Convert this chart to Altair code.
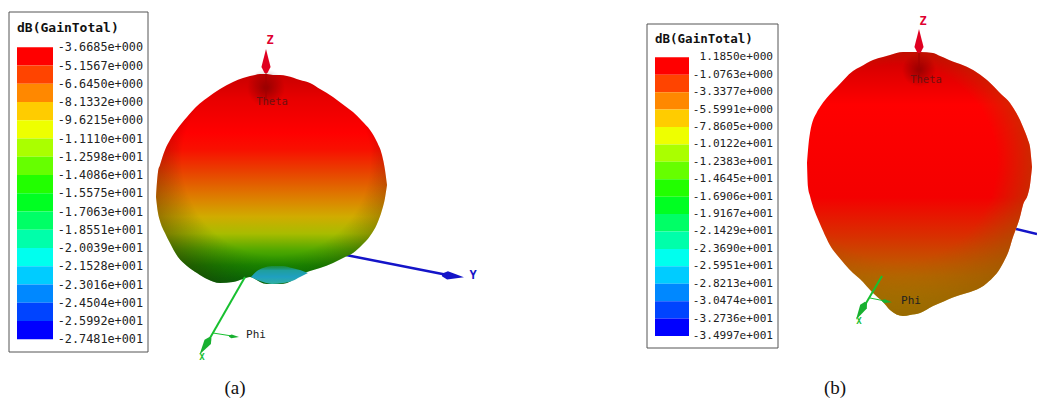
import altair as alt
import pandas as pd

MONO = "DejaVu Sans Mono"
BAND_COLORS = ["#ff0000", "#ff4400", "#ff8800", "#ffcc00", "#eeff00", "#aaff00", "#66ff00", "#22ff00",
               "#00ff22", "#00ff66", "#00ffaa", "#00ffee", "#00ccff", "#0088ff", "#0044ff", "#0000ff"]
LABELS_A = ["-3.6685e+000", "-5.1567e+000", "-6.6450e+000", "-8.1332e+000", "-9.6215e+000", "-1.1110e+001",
            "-1.2598e+001", "-1.4086e+001", "-1.5575e+001", "-1.7063e+001", "-1.8551e+001", "-2.0039e+001",
            "-2.1528e+001", "-2.3016e+001", "-2.4504e+001", "-2.5992e+001", "-2.7481e+001"]
LABELS_B = ["1.1850e+000", "-1.0763e+000", "-3.3377e+000", "-5.5991e+000", "-7.8605e+000", "-1.0122e+001",
            "-1.2383e+001", "-1.4645e+001", "-1.6906e+001", "-1.9167e+001", "-2.1429e+001", "-2.3690e+001",
            "-2.5951e+001", "-2.8213e+001", "-3.0474e+001", "-3.2736e+001", "-3.4997e+001"]

LOBE_A_X = [156, 158, 160, 165, 170, 178, 187, 197, 207, 220, 233, 243, 250, 255, 260, 267, 273, 280, 287, 300, 310,
            320, 333, 345, 353, 362, 370, 377, 382, 385, 387]
LOBE_A_TOP = [197, 172, 165, 150, 140, 128, 117, 106, 98, 89, 82, 78, 76, 75, 74, 74, 75, 75, 76, 80, 83,
              89, 97, 106, 112, 121, 130, 142, 155, 170, 185]
LOBE_A_BOT = [197, 213, 221, 233, 243, 257, 266, 273, 279, 283, 282, 279, 277, 279, 282, 284, 284, 284, 283, 275, 271,
              268, 263, 257, 253, 245, 236, 224, 210, 198, 185]
CAP_X = [251, 257, 263, 272, 283, 292, 300, 308]
CAP_TOP = [277, 271, 268, 266, 266, 268, 270, 273]
CAP_BOT = [277, 280, 282, 284, 283, 281, 277, 273]
LOBE_B_X = [807, 808, 810, 817, 820, 833, 837, 853, 860, 873, 883, 890, 903, 910, 920, 933, 940, 957, 960, 987, 1002,
            1010, 1012, 1020, 1023, 1028, 1030, 1032]
LOBE_B_TOP = [163, 150, 133, 112, 107, 91, 87, 71, 67, 60, 57, 55, 52, 52, 52, 53, 56, 63, 64, 80, 95,
              103, 106, 120, 127, 140, 147, 167]
LOBE_B_BOT = [163, 187, 196, 217, 224, 250, 255, 273, 279, 293, 302, 310, 316, 315, 313, 306, 303, 296, 295, 283, 265,
              247, 240, 217, 205, 194, 185, 167]

X_SCALE = alt.Scale(domain=[8, 1037], nice=False, zero=False)
Y_SCALE = alt.Scale(domain=[398, 8], nice=False, zero=False)
PX = alt.X("x:Q", scale=X_SCALE, axis=None)
PY = alt.Y("y:Q", scale=Y_SCALE, axis=None)


def grad(stops, **kw):
    return dict(gradient="linear", stops=[dict(offset=o, color=c) for o, c in stops], **kw)


def rad(stops, **kw):
    return dict(gradient="radial", stops=[dict(offset=o, color=c) for o, c in stops], **kw)


def lobe(xs, top, bot, fill):
    df = pd.DataFrame({"x": xs, "y": top, "y2": bot})
    return alt.Chart(df).mark_area(interpolate="monotone", fill=fill, stroke=None, opacity=1).encode(
        x=PX, y=PY, y2="y2:Q")


def seg(x0, y0, x1, y1, color, width):
    df = pd.DataFrame({"x": [x0], "y": [y0], "x2": [x1], "y2": [y1]})
    return alt.Chart(df).mark_rule(color=color, strokeWidth=width).encode(x=PX, y=PY, x2="x2:Q", y2="y2:Q")


def head(x, y, angle, length, color, shape="M0,-1L0.38,0.5L0.12,1L-0.12,1L-0.38,0.5Z"):
    df = pd.DataFrame({"x": [x], "y": [y]})
    return alt.Chart(df).mark_point(shape=shape, filled=True, fill=color, stroke=None, opacity=1,
                                    angle=angle, size=length ** 2).encode(x=PX, y=PY)


def blob(x, y, diameter, fill):
    df = pd.DataFrame({"x": [x], "y": [y]})
    return alt.Chart(df).mark_point(shape="circle", filled=True, fill=fill, stroke=None, opacity=1,
                                    size=diameter ** 2).encode(x=PX, y=PY)


def txt(x, y, s, color="#000000", size=11, font=MONO, weight="normal", align="center"):
    df = pd.DataFrame({"x": [x], "y": [y], "t": [s]})
    return alt.Chart(df).mark_text(color=color, fontSize=size, font=font, fontWeight=weight, align=align,
                                   baseline="middle").encode(x=PX, y=PY, text="t:N")


def box(x0, y0, x1, y1):
    df = pd.DataFrame({"x": [x0], "y": [y0], "x2": [x1], "y2": [y1]})
    return alt.Chart(df).mark_rect(fill="#ffffff", stroke="#555555", strokeWidth=1).encode(
        x=PX, y=PY, x2="x2:Q", y2="y2:Q")


def colour_legend(labels, x0, x1, xt, top, bottom, size):
    vals = [float(s) for s in labels]
    scale = alt.Scale(domain=[vals[0], vals[-1]], range=[top - 8, bottom - 8], nice=False, zero=False)
    bands = pd.DataFrame({"hi": vals[:-1], "lo": vals[1:], "c": BAND_COLORS})
    ticks = pd.DataFrame({"v": vals, "t": labels})
    rects = alt.Chart(bands).mark_rect(stroke=None).encode(
        y=alt.Y("hi:Q", scale=scale, axis=None), y2="lo:Q",
        x=alt.value(x0 - 8), x2=alt.value(x1 - 8),
        color=alt.Color("c:N", scale=None))
    text = alt.Chart(ticks).mark_text(font=MONO, fontSize=size, align="right", baseline="middle", color="#222222").encode(
        y=alt.Y("v:Q", scale=scale, axis=None), x=alt.value(xt - 8), text="t:N")
    return rects + text


A_FILL = grad([(0, "#c80000"), (0.12, "#e80000"), (0.28, "#ff0000"), (0.36, "#f81000"), (0.47, "#e84400"),
               (0.6, "#dc8400"), (0.68, "#d0ac00"), (0.76, "#a8bc00"), (0.84, "#50a800"), (0.91, "#1c9000"),
               (1, "#00800a")],
              x1=0, x2=0, y1=0, y2=1)
A_EDGE = rad([(0, "rgba(0,0,0,0)"), (0.68, "rgba(0,0,0,0)"), (1, "rgba(40,10,0,0.4)")],
             x1=0.52, y1=0.42, r1=0, x2=0.52, y2=0.42, r2=0.6)
CAP_FILL = grad([(0, "rgba(30,150,110,0.5)"), (0.25, "#1f9f9f"), (0.6, "#1f9fc0"), (1, "#30b0a0")],
                x1=0, x2=0, y1=0, y2=1)
B_FILL = grad([(0, "#c80000"), (0.08, "#e00000"), (0.2, "#ff0000"), (0.55, "#f40000"), (0.7, "#d83000"),
               (0.85, "#b86800"), (1, "#a08c00")], x1=0, x2=0, y1=0, y2=1)
B_EDGE = rad([(0, "rgba(150,90,0,0)"), (0.62, "rgba(150,90,0,0)"), (1, "rgba(150,90,0,0.75)")],
             x1=0.42, y1=0.42, r1=0, x2=0.42, y2=0.42, r2=0.6)
DIMPLE = rad([(0, "rgba(60,0,0,0.42)"), (1, "rgba(60,0,0,0)")], x1=0.5, y1=0.5, r1=0, x2=0.5, y2=0.5, r2=0.5)

image = alt.layer(
    box(9, 12, 148, 352), box(647, 24, 778, 348),
    txt(17, 28, "dB(GainTotal)", size=13, weight="bold", align="left", color="#111111"),
    txt(655, 39, "dB(GainTotal)", size=12.5, weight="bold", align="left", color="#111111"),
    # panel (a)
    seg(346, 255, 450, 275.5, "#1414c8", 2.5),
    lobe(LOBE_A_X, LOBE_A_TOP, LOBE_A_BOT, A_FILL),
    lobe(LOBE_A_X, LOBE_A_TOP, LOBE_A_BOT, A_EDGE),
    lobe(CAP_X, CAP_TOP, CAP_BOT, CAP_FILL),
    blob(266, 88, 38, DIMPLE),
    seg(266, 72, 266, 100, "#a00000", 1),
    head(266, 61, 0, 24, "#e00020"),
    head(453, 276, 96, 22, "#1414c8"),
    seg(245, 277, 206, 345, "#18c030", 2),
    head(205, 346, 213, 20, "#18b030"),
    seg(213, 333, 232, 336, "#18c030", 1),
    head(234, 336.5, 95, 10, "#18b030"),
    txt(270, 40, "Z", "#e00030", 12, weight="bold"),
    txt(473, 275, "Y", "#1414c8", 12, weight="bold"),
    txt(202, 357, "X", "#18c030", 9, weight="bold"),
    txt(256, 335, "Phi", "#222222", 11),
    txt(272, 102, "Theta", "#701010", 10.5),
    txt(235, 388, "(a)", "#111111", 19, "Liberation Serif"),
    # panel (b)
    seg(1016, 229, 1037, 234, "#1414c8", 2.5),
    lobe(LOBE_B_X, LOBE_B_TOP, LOBE_B_BOT, B_FILL),
    lobe(LOBE_B_X, LOBE_B_TOP, LOBE_B_BOT, B_EDGE),
    blob(919, 70, 34, DIMPLE),
    seg(919, 50, 919, 78, "#a00000", 1),
    head(919, 41, 0, 24, "#e00020"),
    seg(882, 276, 862, 310, "#18c030", 2),
    head(861, 311, 210, 20, "#18b030"),
    seg(870, 298, 885, 301, "#18c030", 1),
    head(887, 301.5, 100, 10, "#18b030"),
    txt(923, 21, "Z", "#e00030", 12, weight="bold"),
    txt(859, 321, "X", "#18c030", 9, weight="bold"),
    txt(911, 301, "Phi", "#222222", 11),
    txt(926, 80, "Theta", "#701010", 10.5),
    txt(835, 388, "(b)", "#111111", 19, "Liberation Serif"),
)

legend_a = colour_legend(LABELS_A, 17, 53, 143, 47.3, 339.3, 11.8)
legend_b = colour_legend(LABELS_B, 655, 689, 773, 57.3, 336, 11.1)

chart = alt.layer(image, legend_a, legend_b).resolve_scale(x="independent", y="independent").properties(
    width=1029, height=390, padding=0, autosize=alt.AutoSizeParams(type="none"), background="#ffffff"
).configure_view(stroke=None)

chart.save("out.html", embed_options={"renderer": "svg", "actions": False})
